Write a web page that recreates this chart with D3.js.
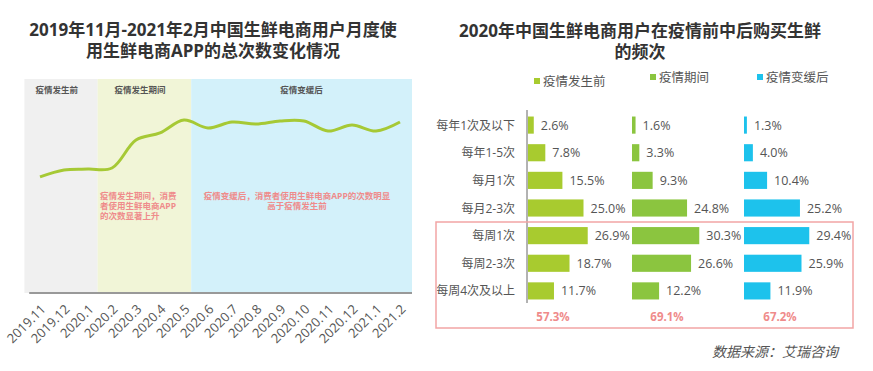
<!DOCTYPE html>
<html>
<head>
<meta charset="utf-8">
<script src="https://cdn.jsdelivr.net/npm/d3@7"></script>
<style>
  body { margin: 0; background: #fff; }
  svg text { font-family: "Open Sans", "Noto Sans CJK SC", sans-serif; }
</style>
</head>
<body>
<svg width="873" height="371"></svg>
<script>
// left chart: monthly total usage (no y axis in the source, values are relative)
var months = ["2019.11","2019.12","2020.1","2020.2","2020.3","2020.4","2020.5","2020.6",
  "2020.7","2020.8","2020.9","2020.10","2020.11","2020.12","2021.1","2021.2"];
var usage = [54.3, 57.5, 57.9, 58.4, 71.5, 74.8, 80.8, 77.1, 79.9, 79.0, 80.4, 80.4, 75.7, 78.5, 75.7, 79.9];
var phases = [
  {name: "疫情发生前", from: -0.65, to: 2.4, fill: "#f0f0f0"},
  {name: "疫情发生期间", from: 2.4, to: 6.3, fill: "#f1f5d7"},
  {name: "疫情变缓后", from: 6.3, to: 15.5, fill: "#d3f1fa"}
];

// right chart: purchase frequency before / during / after
var freqCats = ["每年1次及以下","每年1-5次","每月1次","每月2-3次","每周1次","每周2-3次","每周4次及以上"];
var seriesNames = ["疫情发生前","疫情期间","疫情变缓后"];
var before = [2.6, 7.8, 15.5, 25.0, 26.9, 18.7, 11.7];
var during = [1.6, 3.3, 9.3, 24.8, 30.3, 26.6, 12.2];
var after = [1.3, 4.0, 10.4, 25.2, 29.4, 25.9, 11.9];
var colors = ["#a8cb2f", "#8bc53f", "#1dc2ec"];

var svg = d3.select("svg");
var pink = "#ef8b8b";

// ---------- left ----------
var left = svg.append("g");

left.append("text").attr("x", 213).attr("y", 36).attr("text-anchor", "middle")
  .style("font-size", "17px").style("font-weight", "bold").style("fill", "#333")
  .text("2019年11月-2021年2月中国生鲜电商用户月度使");
left.append("text").attr("x", 213).attr("y", 57).attr("text-anchor", "middle")
  .style("font-size", "17px").style("font-weight", "bold").style("fill", "#333")
  .text("用生鲜电商APP的总次数变化情况");

var x = d3.scaleLinear().domain([0, months.length - 1]).range([40, 400]);
var y = d3.scaleLinear().domain([0, 100]).range([293, 79]);

left.selectAll("rect.phase")
    .data(phases)
  .enter().append("rect")
    .attr("class", "phase")
    .attr("x", d => x(d.from))
    .attr("width", d => x(d.to) - x(d.from))
    .attr("y", y(100))
    .attr("height", y(0) - y(100))
    .style("fill", d => d.fill);

left.selectAll("text.phase")
    .data(phases)
  .enter().append("text")
    .attr("class", "phase")
    .attr("x", (d, i) => i == 0 ? x(d.from) + 11 : (i == 1 ? x(d.from) + 17 : (x(d.from) + x(d.to)) / 2))
    .attr("y", 93)
    .attr("text-anchor", (d, i) => i == 2 ? "middle" : "start")
    .style("font-size", "8.5px").style("font-weight", "bold").style("fill", "#555")
    .text(d => d.name);

var line = d3.line()
  .x((d, i) => x(i))
  .y(d => y(d))
  .curve(d3.curveCatmullRom.alpha(0.5));

left.append("path")
  .datum(usage)
  .attr("d", line)
  .style("fill", "none")
  .style("stroke", "#a6c935")
  .style("stroke-width", "3px");

// axis
var xAxis = d3.axisBottom(x).tickValues(d3.range(months.length))
  .tickFormat(i => months[i]).tickSize(0);
var ax = left.append("g").attr("transform", "translate(0,293)").call(xAxis);
ax.select(".domain").attr("d", "M" + x(-0.45) + ",0H" + x(15.5))
  .style("stroke", "#999").style("stroke-width", "2px");
ax.selectAll("text")
  .attr("text-anchor", "end")
  .attr("dy", null).attr("y", 0)
  .attr("transform", "translate(6,17) rotate(-45)")
  .style("font-size", "13px").style("fill", "#555");

// annotations
var note1 = ["疫情发生期间，消费", "者使用生鲜电商APP", "的次数显著上升"];
left.selectAll("text.note1").data(note1).enter().append("text")
  .attr("x", 100).attr("y", (d, i) => 199 + i * 10)
  .style("font-size", "8.5px").style("font-weight", "bold").style("fill", pink).text(d => d);
var note2 = ["疫情变缓后，消费者使用生鲜电商APP的次数明显", "高于疫情发生前"];
left.selectAll("text.note2").data(note2).enter().append("text")
  .attr("x", 297).attr("y", (d, i) => 199 + i * 10)
  .attr("text-anchor", "middle")
  .style("font-size", "8.5px").style("font-weight", "bold").style("fill", pink).text(d => d);

// ---------- right ----------
var right = svg.append("g");
right.append("text").attr("x", 640).attr("y", 37).attr("text-anchor", "middle")
  .style("font-size", "17px").style("font-weight", "bold").style("fill", "#333")
  .text("2020年中国生鲜电商用户在疫情前中后购买生鲜");
right.append("text").attr("x", 640).attr("y", 58).attr("text-anchor", "middle")
  .style("font-size", "17px").style("font-weight", "bold").style("fill", "#333")
  .text("的频次");

// legend
var legendPos = [[537, 81], [653, 77], [760, 77]];
var lg = right.selectAll("g.legend").data(seriesNames).enter().append("g")
  .attr("class", "legend")
  .attr("transform", (d, i) => "translate(" + legendPos[i][0] + "," + legendPos[i][1] + ")");
lg.append("rect").attr("x", -3).attr("y", -3).attr("width", 6).attr("height", 6)
  .style("fill", (d, i) => colors[i]);
lg.append("text").attr("x", 6).attr("y", 4.5)
  .style("font-size", "12.5px").style("fill", "#555").text(d => d);

var yb = d3.scaleBand().domain(freqCats).range([111, 305]).paddingInner(0.38).paddingOuter(0.2);
var w = d3.scaleLinear().domain([0, 10]).range([0, 22.2]);
var groupX = [528, 632, 744];
var series = [before, during, after];

right.selectAll("text.cat").data(freqCats).enter().append("text")
  .attr("class", "cat")
  .attr("x", 515)
  .attr("y", d => yb(d) + yb.bandwidth() / 2 + 4.5)
  .attr("text-anchor", "end")
  .style("font-size", "12px").style("fill", "#555")
  .text(d => d);

right.append("line").attr("x1", 527).attr("x2", 527).attr("y1", 110).attr("y2", 303)
  .style("stroke", "#666").style("stroke-width", "1px");

series.forEach(function(vals, s) {
  var g = right.append("g").attr("transform", "translate(" + groupX[s] + ",0)");
  g.selectAll("rect").data(vals).enter().append("rect")
    .attr("x", 0)
    .attr("y", (d, i) => yb(freqCats[i]))
    .attr("width", d => w(d))
    .attr("height", yb.bandwidth())
    .style("fill", colors[s]);
  g.selectAll("text").data(vals).enter().append("text")
    .attr("x", d => w(d) + 7)
    .attr("y", (d, i) => yb(freqCats[i]) + yb.bandwidth() / 2 + 4.5)
    .style("font-size", "12.5px").style("fill", "#555")
    .text(d => d.toFixed(1) + "%");
});

// highlight box for weekly buyers
right.append("rect").attr("x", 436).attr("y", 222).attr("width", 417).attr("height", 106)
  .style("fill", "none").style("stroke", "#f2a5a5").style("stroke-width", "1.5px");

var totalX = [553, 667, 780];
series.forEach(function(vals, s) {
  right.append("text").attr("x", totalX[s]).attr("y", 321).attr("text-anchor", "middle")
    .style("font-size", "11.5px").style("font-weight", "bold").style("fill", pink)
    .text(d3.sum(vals.slice(4)).toFixed(1) + "%");
});

right.append("text").attr("x", 838).attr("y", 357).attr("text-anchor", "end")
  .style("font-size", "14px").style("font-style", "italic").style("fill", "#555")
  .text("数据来源：艾瑞咨询");
</script>
</body>
</html>
